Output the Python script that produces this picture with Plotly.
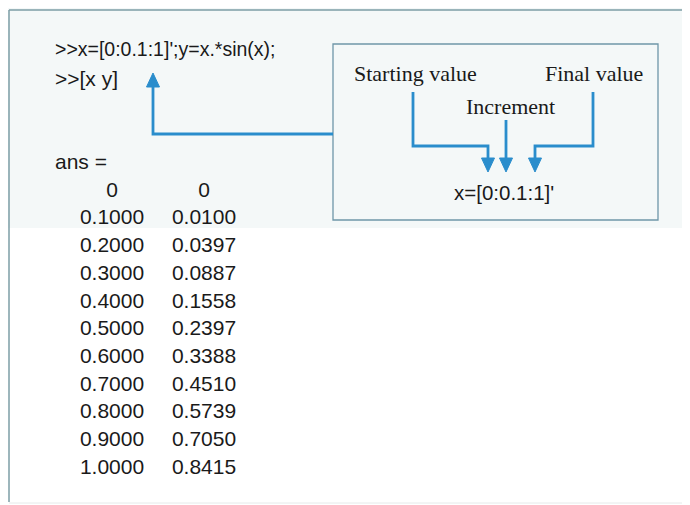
import plotly.graph_objects as go

# ---- data -------------------------------------------------------------
x_vals = [0.0, 0.1, 0.2, 0.3, 0.4, 0.5, 0.6, 0.7, 0.8, 0.9, 1.0]
y_vals = [0.0, 0.0100, 0.0397, 0.0887, 0.1558, 0.2397, 0.3388, 0.4510, 0.5739, 0.7050, 0.8415]
command_lines = [">>x=[0:0.1:1]';y=x.*sin(x);", ">>[x y]"]
ans_label = "ans ="
callout_labels = ["Starting value", "Increment", "Final value"]
callout_expr = "x=[0:0.1:1]'"


def fmt(v):
    return "0" if v == 0 else f"{v:.4f}"


W, H = 690, 505
OFF = 8  # page body margin: figure starts at page pixel (8, 8)
SANS = "Liberation Sans, Arial, sans-serif"
SERIF = "Liberation Serif, Times New Roman, serif"
BLUE = "#2a8dcc"
BORDER = "#7d9ea6"
BOX = "#6f96a8"
INK = "#1a1a1a"

row0, row_step = 191.5, 27.7
rows = [row0 + i * row_step for i in range(len(x_vals))]

fig = go.Figure()

# table columns
fig.add_trace(go.Scatter(x=[112] * len(x_vals), y=rows, mode="text",
                         text=[fmt(v) for v in x_vals],
                         textfont=dict(family=SANS, size=21, color=INK),
                         textposition="middle center", hoverinfo="skip", showlegend=False))
fig.add_trace(go.Scatter(x=[204] * len(y_vals), y=rows, mode="text",
                         text=[fmt(v) for v in y_vals],
                         textfont=dict(family=SANS, size=21, color=INK),
                         textposition="middle center", hoverinfo="skip", showlegend=False))

shapes = []
# tinted scan area at top
shapes.append(dict(type="rect", x0=0, x1=W, y0=0, y1=228, fillcolor="#f4f8f8", line=dict(width=0), layer="below"))
# outer frame
shapes.append(dict(type="line", x0=9, x1=W, y0=10, y1=10, line=dict(color=BORDER, width=1.5)))
shapes.append(dict(type="line", x0=9, x1=9, y0=10, y1=502, line=dict(color=BORDER, width=1.5)))
shapes.append(dict(type="line", x0=9, x1=W, y0=503, y1=503, line=dict(color="#e6eaea", width=1)))
# callout box
shapes.append(dict(type="rect", x0=333, x1=658, y0=44, y1=220, line=dict(color=BOX, width=1.3)))


def poly(pts):
    return dict(type="path", path="M " + " L ".join(f"{a},{b}" for a, b in pts),
                line=dict(color=BLUE, width=2.8))


shapes.append(poly([(333, 134), (153, 134), (153, 86)]))
shapes.append(poly([(413, 92), (413, 146), (488, 146), (488, 160)]))
shapes.append(poly([(506, 120), (506, 160)]))
shapes.append(poly([(593, 92), (593, 146), (535, 146), (535, 160)]))


def head(x, tip, up=False):
    b = tip + 14 if up else tip - 14
    return dict(type="path", path=f"M {x-6.5},{b} L {x+6.5},{b} L {x},{tip} Z",
                fillcolor=BLUE, line=dict(color=BLUE, width=1))


shapes.append(head(153, 73, up=True))
shapes.append(head(488, 172))
shapes.append(head(506, 172))
shapes.append(head(535, 172))

ann = []
ann.append(dict(x=53, y=49, text=command_lines[0], xanchor="left", yanchor="middle", showarrow=False,
                font=dict(family=SANS, size=19.5, color=INK)))
ann.append(dict(x=53, y=78, text=command_lines[1], xanchor="left", yanchor="middle", showarrow=False,
                font=dict(family=SANS, size=21, color=INK)))
ann.append(dict(x=53, y=161, text=ans_label, xanchor="left", yanchor="middle", showarrow=False,
                font=dict(family=SANS, size=21, color=INK)))
for txt, cx, cy in zip(callout_labels, [415, 510, 594], [73, 106, 73]):
    ann.append(dict(x=cx, y=cy, text=txt, xanchor="center", yanchor="middle", showarrow=False,
                    font=dict(family=SERIF, size=22, color=INK)))
ann.append(dict(x=504, y=192, text=callout_expr, xanchor="center", yanchor="middle", showarrow=False,
                font=dict(family=SANS, size=20.5, color=INK)))

fig.update_layout(
    width=W - OFF, height=H - OFF,
    margin=dict(l=0, r=0, t=0, b=0),
    paper_bgcolor="white", plot_bgcolor="white",
    xaxis=dict(range=[OFF, W], visible=False, fixedrange=True),
    yaxis=dict(range=[H, OFF], visible=False, fixedrange=True),
    shapes=shapes, annotations=ann,
    showlegend=False,
)

fig.write_html("out.html")
